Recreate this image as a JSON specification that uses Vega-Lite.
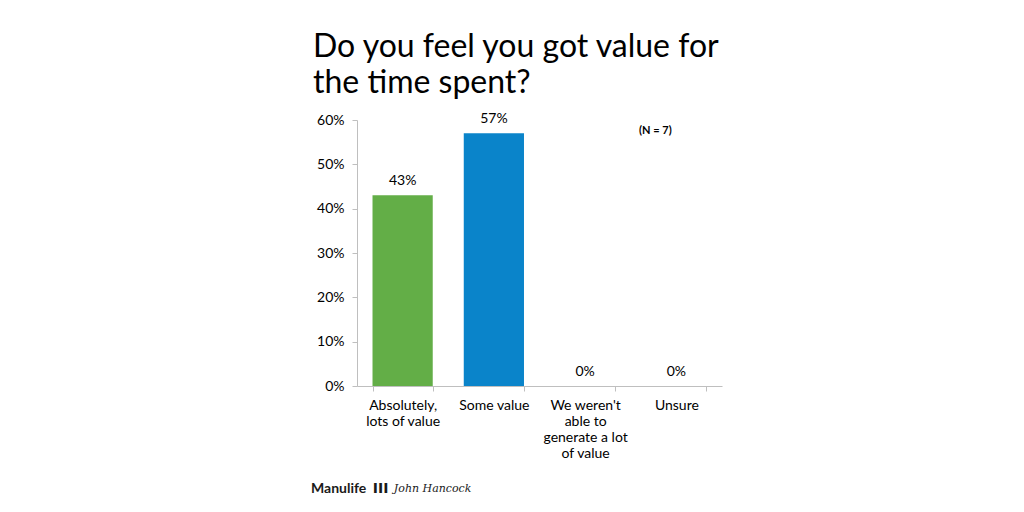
{
  "$schema": "https://vega.github.io/schema/vega-lite/v6.json",
  "width": 365,
  "height": 266,
  "autosize": {"type": "none"},
  "padding": {"left": 357, "top": 120, "right": 302, "bottom": 126},
  "background": "white",
  "title": {
    "text": ["Do you feel you got value for", "the time spent?"],
    "anchor": "start",
    "frame": "group",
    "font": "Lato",
    "fontSize": 32,
    "fontWeight": "normal",
    "color": "#000000",
    "lineHeight": 36,
    "dx": -44,
    "offset": 12
  },
  "config": {"view": {"stroke": null}, "font": "Lato"},
  "data": {
    "values": [
      {"category": "Absolutely, lots of value", "share": 0.43},
      {"category": "Some value", "share": 0.57},
      {"category": "We weren't able to generate a lot of value", "share": 0.0},
      {"category": "Unsure", "share": 0.0}
    ]
  },
  "encoding": {
    "x": {
      "field": "category",
      "type": "nominal",
      "sort": null,
      "scale": {"paddingInner": 0.34, "paddingOuter": 0.17},
      "axis": {
        "title": null,
        "labelAngle": 0,
        "tickBand": "extent",
        "domainColor": "#BFBFBF",
        "tickColor": "#BFBFBF",
        "tickSize": 5,
        "labelFont": "Lato",
        "labelFontSize": 14,
        "labelColor": "#000000",
        "labelPadding": 7,
        "labelLineHeight": 16,
        "labelBaseline": "top",
        "labelExpr": "datum.value == 'Absolutely, lots of value' ? ['Absolutely,', 'lots of value'] : datum.value == \"We weren't able to generate a lot of value\" ? [\"We weren't\", 'able to', 'generate a lot', 'of value'] : datum.value"
      }
    },
    "y": {
      "field": "share",
      "type": "quantitative",
      "scale": {"domain": [0, 0.6], "nice": false},
      "axis": {
        "title": null,
        "format": ".0%",
        "values": [0, 0.1, 0.2, 0.3, 0.4, 0.5, 0.6],
        "grid": false,
        "domainColor": "#BFBFBF",
        "tickColor": "#BFBFBF",
        "tickSize": 5,
        "labelFont": "Lato",
        "labelFontSize": 14,
        "labelColor": "#000000",
        "labelPadding": 8
      }
    }
  },
  "layer": [
    {
      "mark": {"type": "bar"},
      "encoding": {
        "color": {
          "field": "category",
          "type": "nominal",
          "sort": null,
          "scale": {"range": ["#63AE47", "#0A84CA", "#63AE47", "#0A84CA"]},
          "legend": null
        }
      }
    },
    {
      "mark": {"type": "text", "baseline": "bottom", "dy": -7, "font": "Lato", "fontSize": 14, "color": "#000000"},
      "encoding": {
        "text": {"field": "share", "type": "quantitative", "format": ".0%"}
      }
    },
    {
      "data": {"values": [{"note": "(N = 7)", "category": "Unsure", "share": 0.575}]},
      "mark": {"type": "text", "font": "Lato", "fontSize": 11, "fontWeight": "bold", "dx": -21, "color": "#000000"},
      "encoding": {"text": {"field": "note"}}
    },
    {
      "data": {"values": [{"brand": "Manulife", "category": "Absolutely, lots of value", "share": -0.232}]},
      "mark": {"type": "text", "font": "Lato", "fontSize": 14, "fontWeight": "bold", "dx": -64, "clip": false, "color": "#1a1a1a"},
      "encoding": {"text": {"field": "brand"}}
    },
    {
      "data": {"values": [{"brand": "III", "category": "Absolutely, lots of value", "share": -0.232}]},
      "mark": {"type": "text", "font": "DejaVu Sans", "fontSize": 14, "fontWeight": "bold", "dx": -22, "clip": false, "color": "#1a1a1a"},
      "encoding": {"text": {"field": "brand"}}
    },
    {
      "data": {"values": [{"brand": "John Hancock", "category": "Absolutely, lots of value", "share": -0.232}]},
      "mark": {"type": "text", "font": "DejaVu Serif", "fontSize": 11, "fontStyle": "italic", "dx": 30, "clip": false, "color": "#1a1a1a"},
      "encoding": {"text": {"field": "brand"}}
    }
  ]
}
